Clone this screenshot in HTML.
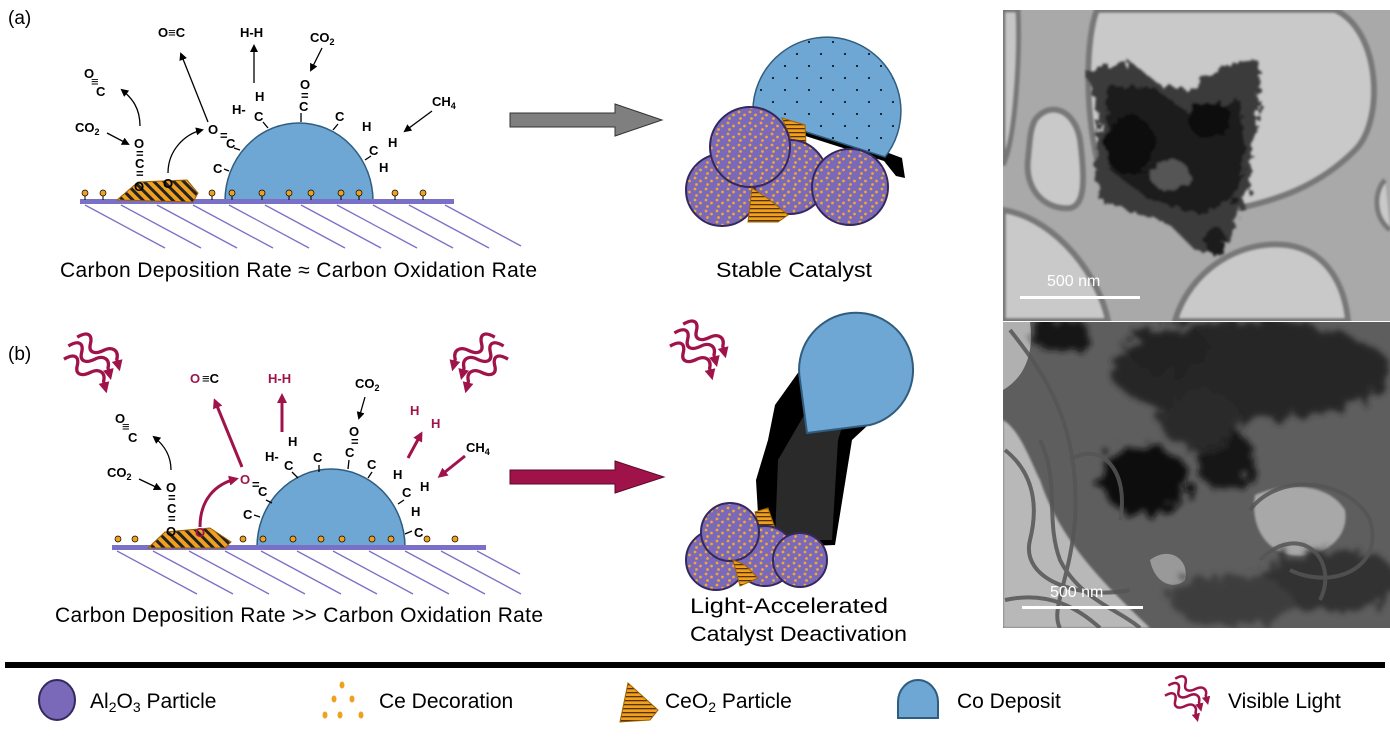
<!DOCTYPE html>
<html><head><meta charset="utf-8"><style>
html,body{margin:0;padding:0;background:#fff;}
svg{display:block;}
text{font-family:"Liberation Sans",Arial,sans-serif;}
.ch{font-weight:bold;font-size:13px;fill:#000;}
.r{fill:#a0134a;}
.cap{font-size:21px;fill:#000;}
.lg{font-size:21px;fill:#000;}
</style></head><body>
<svg width="1390" height="738" viewBox="0 0 1390 738" xmlns="http://www.w3.org/2000/svg">
<defs>
<marker id="ab" markerWidth="8" markerHeight="8" refX="6" refY="4" orient="auto" markerUnits="userSpaceOnUse"><path d="M0,0 L8,4 L0,8 z" fill="#000"/></marker>
<marker id="ar" markerWidth="10" markerHeight="10" refX="7" refY="5" orient="auto" markerUnits="userSpaceOnUse"><path d="M0,0 L10,5 L0,10 z" fill="#a0134a"/></marker>
<pattern id="hatch" width="7" height="7" patternUnits="userSpaceOnUse" patternTransform="rotate(-45)"><rect width="7" height="7" fill="#f0a020"/><rect width="3" height="7" fill="#222"/></pattern>
<pattern id="hatch2" width="4" height="4" patternUnits="userSpaceOnUse"><rect width="4" height="4" fill="#f0a020"/><rect width="4" height="1.3" fill="#553300"/></pattern>
<pattern id="dots" width="11" height="11" patternUnits="userSpaceOnUse"><rect width="11" height="11" fill="#7a68b8"/><circle cx="2" cy="2" r="1.4" fill="#f0a830"/><circle cx="7.5" cy="5" r="1.4" fill="#f0a830"/><circle cx="3.5" cy="8.5" r="1.4" fill="#f0a830"/></pattern>
<pattern id="bdots" width="24" height="24" patternUnits="userSpaceOnUse"><rect width="24" height="24" fill="#6ea6d4"/><circle cx="5" cy="6" r="1" fill="#000"/><circle cx="17" cy="18" r="1" fill="#000"/></pattern>
<g id="sq" fill="none" stroke="#a0134a" stroke-width="3">
<path d="M4,10 c10,-6 14,-2 12,6 c-2,8 4,10 12,6 c8,-4 14,0 12,8 l2,8" marker-end="url(#ar)"/>
<path d="M12,2 c10,-6 14,-2 12,6 c-2,8 4,10 12,6 c8,-4 14,0 12,8 l2,8" marker-end="url(#ar)"/>
<path d="M0,22 c10,-6 14,-2 12,6 c-2,8 4,10 12,6 c8,-4 14,0 12,8 l2,8" marker-end="url(#ar)"/>
</g>
<filter id="soft"><feGaussianBlur stdDeviation="1"/></filter>
<filter id="blob"><feTurbulence type="fractalNoise" baseFrequency="0.12" numOctaves="3"/><feDisplacementMap in="SourceGraphic" scale="14"/><feGaussianBlur stdDeviation="1.2"/></filter>
<filter id="cloud"><feTurbulence type="fractalNoise" baseFrequency="0.08" numOctaves="3"/><feDisplacementMap in="SourceGraphic" scale="30"/><feGaussianBlur stdDeviation="3"/></filter>
</defs>

<text x="8" y="24" font-size="19">(a)</text>
<text x="8" y="360" font-size="19">(b)</text>

<!-- ===== Panel a ===== -->
<g stroke="#7b70c8" stroke-width="1.3">
<line x1="85" y1="205" x2="165" y2="248"/><line x1="121" y1="205" x2="201" y2="248"/><line x1="157" y1="205" x2="237" y2="248"/><line x1="193" y1="205" x2="273" y2="248"/><line x1="229" y1="205" x2="309" y2="248"/><line x1="265" y1="205" x2="345" y2="248"/><line x1="301" y1="205" x2="381" y2="248"/><line x1="337" y1="205" x2="417" y2="248"/><line x1="373" y1="205" x2="453" y2="248"/><line x1="409" y1="205" x2="489" y2="248"/><line x1="445" y1="205" x2="521" y2="246"/>
</g>
<path d="M225,201 A74,78 0 0 1 373,201 Z" fill="#6ea6d4" stroke="#2f5d7f" stroke-width="1.5"/>
<rect x="80" y="199" width="374" height="5" fill="#7b70c8"/>
<polygon points="117,200 138,182 187,180 198,193 193,202" fill="url(#hatch)" stroke="#a06000"/>
<g fill="#f0a020" stroke="#000" stroke-width="0.7">
<circle cx="85" cy="193" r="3"/><circle cx="103" cy="193" r="3"/><circle cx="212" cy="193" r="3"/><circle cx="232" cy="193" r="3"/><circle cx="262" cy="193" r="3"/><circle cx="289" cy="193" r="3"/><circle cx="311" cy="193" r="3"/><circle cx="341" cy="193" r="3"/><circle cx="359" cy="193" r="3"/><circle cx="395" cy="193" r="3"/><circle cx="423" cy="193" r="3"/>
</g>
<g stroke="#000" stroke-width="1"><line x1="85" y1="196" x2="85" y2="200"/><line x1="103" y1="196" x2="103" y2="200"/><line x1="212" y1="196" x2="212" y2="200"/><line x1="232" y1="196" x2="232" y2="200"/><line x1="262" y1="196" x2="262" y2="200"/><line x1="289" y1="196" x2="289" y2="200"/><line x1="311" y1="196" x2="311" y2="200"/><line x1="341" y1="196" x2="341" y2="200"/><line x1="359" y1="196" x2="359" y2="200"/><line x1="395" y1="196" x2="395" y2="200"/><line x1="423" y1="196" x2="423" y2="200"/></g>
<g class="ch">
<text x="158" y="37" class="ch">O≡C</text>
<text x="240" y="37" class="ch">H-H</text>
<text x="310" y="42" class="ch">CO<tspan font-size="9" dy="3">2</tspan></text>
<text x="300" y="89" class="ch">O</text><text x="301" y="100" class="ch" font-size="9">=</text><text x="299" y="111" class="ch">C</text>
<text x="255" y="101" class="ch">H</text><text x="232" y="114" class="ch">H-</text><text x="254" y="121" class="ch">C</text>
<text x="335" y="121" class="ch">C</text>
<text x="432" y="106" class="ch">CH<tspan font-size="9" dy="3">4</tspan></text>
<text x="362" y="131" class="ch">H</text><text x="388" y="147" class="ch">H</text><text x="369" y="155" class="ch">C</text><text x="379" y="172" class="ch">H</text>
<text x="208" y="134" class="ch">O</text><text x="220" y="140" class="ch" font-size="9">=</text><text x="226" y="148" class="ch">C</text>
<text x="213" y="173" class="ch">C</text>
<text x="75" y="132" class="ch">CO<tspan font-size="9" dy="3">2</tspan></text>
<text x="134" y="148" class="ch">O</text><text x="136" y="158" class="ch" font-size="9">=</text><text x="135" y="168" class="ch">C</text><text x="136" y="178" class="ch" font-size="9">=</text><text x="134" y="191" class="ch">O</text>
<text x="163" y="188" class="ch">O</text>
<text x="84" y="78" class="ch">O</text><text x="91" y="86" class="ch" font-size="9">≡</text><text x="96" y="96" class="ch">C</text>
</g>
<g stroke="#000" stroke-width="1.3" fill="none">
<line x1="254" y1="83" x2="254" y2="46" marker-end="url(#ab)"/>
<line x1="208" y1="122" x2="181" y2="54" marker-end="url(#ab)"/>
<line x1="322" y1="48" x2="311" y2="70" marker-end="url(#ab)"/>
<line x1="432" y1="111" x2="405" y2="131" marker-end="url(#ab)"/>
<line x1="107" y1="133" x2="128" y2="144" marker-end="url(#ab)"/>
<path d="M140,126 C140,108 132,98 122,90" marker-end="url(#ab)"/>
<path d="M168,173 C168,150 185,134 202,130" marker-end="url(#ab)"/>
<line x1="263" y1="122" x2="268" y2="128"/><line x1="301" y1="113" x2="301" y2="122"/><line x1="338" y1="124" x2="333" y2="130"/><line x1="371" y1="156" x2="365" y2="160"/><line x1="234" y1="148" x2="240" y2="150"/><line x1="224" y1="169" x2="229" y2="171"/>
</g>
<text x="60" y="277" class="cap" textLength="477" lengthAdjust="spacing">Carbon Deposition Rate ≈ Carbon Oxidation Rate</text>

<!-- gray arrow -->
<polygon points="510,113 615,113 615,104 662,120 615,136 615,127 510,127" fill="#7f7f7f" stroke="#333" stroke-width="1"/>

<!-- stable catalyst -->
<path d="M748,106 L886,152 L902,158 L905,178 L896,176 L884,161 L752,119 Z" fill="#000"/>
<path d="M753,115 A74,74 0 1 1 885,157 Z" fill="url(#bdots)" stroke="#2f5d7f" stroke-width="1.5"/>
<polygon points="782,118 805,125 806,145 795,148" fill="url(#hatch2)" stroke="#a06000"/>
<circle cx="722" cy="190" r="36" fill="url(#dots)" stroke="#35285f" stroke-width="2"/>
<circle cx="790" cy="177" r="37" fill="url(#dots)" stroke="#35285f" stroke-width="2"/>
<circle cx="750" cy="147" r="40" fill="url(#dots)" stroke="#35285f" stroke-width="2"/>
<circle cx="850" cy="187" r="38" fill="url(#dots)" stroke="#35285f" stroke-width="2"/>
<polygon points="752,188 770,200 788,215 778,222 748,222" fill="url(#hatch2)" stroke="#a06000"/>
<text x="716" y="277" class="cap" textLength="156" lengthAdjust="spacingAndGlyphs">Stable Catalyst</text>

<!-- ===== Panel b ===== -->
<use href="#sq" transform="translate(64,335) scale(1.1)"/>
<use href="#sq" transform="translate(442,335) scale(1.1) scale(-1,1) translate(-60,0)"/>
<use href="#sq" transform="translate(670,322) scale(1.1)"/>
<g stroke="#7b70c8" stroke-width="1.3">
<line x1="117" y1="551" x2="197" y2="594"/><line x1="153" y1="551" x2="233" y2="594"/><line x1="189" y1="551" x2="269" y2="594"/><line x1="225" y1="551" x2="305" y2="594"/><line x1="261" y1="551" x2="341" y2="594"/><line x1="297" y1="551" x2="377" y2="594"/><line x1="333" y1="551" x2="413" y2="594"/><line x1="369" y1="551" x2="449" y2="594"/><line x1="405" y1="551" x2="485" y2="594"/><line x1="441" y1="551" x2="521" y2="594"/><line x1="477" y1="551" x2="520" y2="574"/>
</g>
<path d="M257,547 A74,78 0 0 1 405,547 Z" fill="#6ea6d4" stroke="#2f5d7f" stroke-width="1.5"/>
<rect x="112" y="545" width="374" height="5" fill="#7b70c8"/>
<polygon points="148,548 165,532 210,528 231,542 225,548" fill="url(#hatch)" stroke="#a06000"/>
<g fill="#f0a020" stroke="#000" stroke-width="0.7">
<circle cx="118" cy="539" r="3"/><circle cx="135" cy="539" r="3"/><circle cx="243" cy="539" r="3"/><circle cx="263" cy="539" r="3"/><circle cx="293" cy="539" r="3"/><circle cx="321" cy="539" r="3"/><circle cx="342" cy="539" r="3"/><circle cx="372" cy="539" r="3"/><circle cx="391" cy="539" r="3"/><circle cx="427" cy="539" r="3"/><circle cx="455" cy="539" r="3"/>
</g>
<g class="ch">
<text x="190" y="383" class="ch r">O</text><text x="202" y="383" class="ch">≡C</text>
<text x="268" y="383" class="ch r">H-H</text>
<text x="355" y="388" class="ch">CO<tspan font-size="9" dy="3">2</tspan></text>
<text x="349" y="436" class="ch">O</text><text x="351" y="446" class="ch" font-size="9">=</text><text x="345" y="457" class="ch">C</text>
<text x="288" y="446" class="ch">H</text><text x="265" y="461" class="ch">H-</text><text x="284" y="470" class="ch">C</text>
<text x="313" y="462" class="ch">C</text><text x="367" y="469" class="ch">C</text>
<text x="410" y="415" class="ch r">H</text><text x="431" y="428" class="ch r">H</text>
<text x="466" y="452" class="ch">CH<tspan font-size="9" dy="3">4</tspan></text>
<text x="393" y="479" class="ch">H</text><text x="420" y="491" class="ch">H</text><text x="402" y="497" class="ch">C</text><text x="411" y="516" class="ch">H</text>
<text x="414" y="537" class="ch">C</text>
<text x="240" y="484" class="ch r">O</text><text x="252" y="489" class="ch" font-size="9">=</text><text x="258" y="496" class="ch">C</text>
<text x="243" y="519" class="ch">C</text>
<text x="107" y="477" class="ch">CO<tspan font-size="9" dy="3">2</tspan></text>
<text x="166" y="492" class="ch">O</text><text x="168" y="502" class="ch" font-size="9">=</text><text x="167" y="513" class="ch">C</text><text x="168" y="523" class="ch" font-size="9">=</text><text x="166" y="536" class="ch">O</text>
<text x="195" y="537" class="ch r">O</text>
<text x="115" y="423" class="ch">O</text><text x="122" y="431" class="ch" font-size="9">≡</text><text x="128" y="442" class="ch">C</text>
</g>
<g stroke="#000" stroke-width="1.3" fill="none">
<line x1="365" y1="397" x2="359" y2="418" marker-end="url(#ab)"/>
<line x1="139" y1="479" x2="160" y2="489" marker-end="url(#ab)"/>
<path d="M171,470 C171,455 164,445 154,437" marker-end="url(#ab)"/>
<line x1="292" y1="472" x2="298" y2="478"/><line x1="349" y1="460" x2="348" y2="469"/><line x1="319" y1="465" x2="319" y2="472"/><line x1="372" y1="472" x2="368" y2="478"/><line x1="404" y1="500" x2="398" y2="504"/><line x1="266" y1="500" x2="272" y2="503"/><line x1="254" y1="515" x2="260" y2="517"/><line x1="412" y1="531" x2="405" y2="534"/>
</g>
<g stroke="#a0134a" stroke-width="3" fill="none">
<line x1="242" y1="467" x2="215" y2="401" marker-end="url(#ar)"/>
<line x1="282" y1="432" x2="282" y2="396" marker-end="url(#ar)"/>
<line x1="408" y1="458" x2="421" y2="434" marker-end="url(#ar)"/>
<line x1="465" y1="456" x2="440" y2="476" marker-end="url(#ar)"/>
<path d="M200,527 C200,500 215,484 236,479" marker-end="url(#ar)"/>
</g>
<text x="55" y="622" class="cap" textLength="488" lengthAdjust="spacing">Carbon Deposition Rate &gt;&gt; Carbon Oxidation Rate</text>

<!-- red arrow -->
<polygon points="510,470 615,470 615,461 664,477 615,493 615,484 510,484" fill="#a0134a" stroke="#5a0a2a" stroke-width="1"/>

<!-- deactivated catalyst -->
<path d="M800,370 L905,355 L895,400 L852,440 L835,545 L760,548 L756,480 L768,440 L775,405 Z" fill="#000"/>
<path d="M810,405 L852,395 L838,440 L832,540 L775,540 L778,460 Z" fill="#2a2a2a"/>
<path d="M807,433 L800,380 A57,57 0 1 1 870,425 Z" fill="#6ea6d4" stroke="#2f5d7f" stroke-width="2"/>
<polygon points="755,512 768,508 775,528 760,530" fill="url(#hatch2)" stroke="#a06000"/>
<circle cx="716" cy="560" r="30" fill="url(#dots)" stroke="#35285f" stroke-width="2"/>
<circle cx="765" cy="556" r="30" fill="url(#dots)" stroke="#35285f" stroke-width="2"/>
<circle cx="730" cy="532" r="29" fill="url(#dots)" stroke="#35285f" stroke-width="2"/>
<circle cx="800" cy="560" r="27" fill="url(#dots)" stroke="#35285f" stroke-width="2"/>
<polygon points="733,560 745,565 758,578 740,586" fill="url(#hatch2)" stroke="#a06000"/>
<text x="690" y="613" class="cap" textLength="198" lengthAdjust="spacingAndGlyphs">Light-Accelerated</text>
<text x="690" y="641" class="cap" textLength="217" lengthAdjust="spacingAndGlyphs">Catalyst Deactivation</text>

<!-- TEM top -->
<g>
<clipPath id="c1"><rect x="1003" y="10" width="387" height="311"/></clipPath>
<g clip-path="url(#c1)">
<rect x="1003" y="10" width="387" height="311" fill="#a9a9a9"/>
<g filter="url(#soft)">
<path d="M1003,10 L1018,10 C1020,60 1015,140 1003,165 Z" fill="#c6c6c6" stroke="#777" stroke-width="5"/>
<path d="M1097,10 L1335,10 C1380,30 1385,120 1355,150 C1320,185 1280,200 1230,210 C1180,220 1120,210 1100,170 C1085,120 1085,40 1097,10 Z" fill="#c9c9c9" stroke="#787878" stroke-width="6"/>
<path d="M1035,120 C1050,100 1075,110 1080,140 C1085,180 1085,205 1070,208 C1045,210 1025,190 1028,160 C1030,140 1030,130 1035,120 Z" fill="#c9c9c9" stroke="#787878" stroke-width="6"/>
<path d="M1003,210 C1060,220 1100,280 1108,321 L1003,321 Z" fill="#c9c9c9" stroke="#787878" stroke-width="6"/>
<path d="M1175,321 C1190,270 1240,240 1285,245 C1330,250 1345,290 1348,321 Z" fill="#c9c9c9" stroke="#787878" stroke-width="6"/>
<path d="M1385,180 C1375,190 1372,215 1390,230" fill="#c9c9c9" stroke="#787878" stroke-width="5"/>
</g>
<g filter="url(#blob)">
<path d="M1085,70 L1130,62 L1160,85 L1190,90 L1225,65 L1258,60 L1260,100 L1252,150 L1250,190 L1240,215 L1218,255 L1195,250 L1170,225 L1130,210 L1100,200 L1095,160 L1100,120 Z" fill="#3a3a3a"/>
<path d="M1105,90 L1150,85 L1185,110 L1240,100 L1245,150 L1235,200 L1200,215 L1150,200 L1110,170 Z" fill="#1c1c1c"/>
<ellipse cx="1130" cy="145" rx="25" ry="30" fill="#0c0c0c"/>
<ellipse cx="1210" cy="120" rx="22" ry="18" fill="#0c0c0c"/>
<ellipse cx="1170" cy="175" rx="20" ry="15" fill="#555"/>
<ellipse cx="1215" cy="240" rx="10" ry="14" fill="#1a1a1a"/>
</g>
</g>
<rect x="1020" y="296" width="120" height="3" fill="#fff"/>
<text x="1047" y="286" font-size="16" fill="#fff">500 nm</text>
</g>

<!-- TEM bottom -->
<g>
<clipPath id="c2"><rect x="1003" y="322" width="387" height="306"/></clipPath>
<g clip-path="url(#c2)">
<rect x="1003" y="322" width="387" height="306" fill="#5e5e5e"/>
<path d="M1003,420 C1020,430 1030,460 1040,480 C1060,540 1100,580 1150,628 L1003,628 Z" fill="#b8b8b8" filter="url(#soft)"/>
<path d="M1003,322 L1030,322 C1035,360 1020,380 1003,390 Z" fill="#b0b0b0"/>
<path d="M1255,495 C1290,480 1330,485 1345,510 C1350,540 1320,560 1290,555 C1265,550 1250,525 1255,495 Z" fill="#a8a8a8" filter="url(#soft)"/>
<path d="M1150,560 C1170,545 1190,560 1185,580 C1175,590 1155,585 1150,560 Z" fill="#999"/>
<g filter="url(#cloud)">
<ellipse cx="1250" cy="370" rx="140" ry="50" fill="#262626"/>
<ellipse cx="1145" cy="480" rx="45" ry="35" fill="#111"/>
<ellipse cx="1225" cy="460" rx="30" ry="30" fill="#161616"/>
<ellipse cx="1200" cy="420" rx="40" ry="30" fill="#2a2a2a"/>
<ellipse cx="1060" cy="335" rx="30" ry="18" fill="#141414"/>
<ellipse cx="1170" cy="350" rx="40" ry="25" fill="#222"/>
<ellipse cx="1330" cy="580" rx="70" ry="30" fill="#333"/>
<ellipse cx="1230" cy="600" rx="60" ry="25" fill="#3e3e3e"/>
</g>
<g fill="none" stroke="#555" stroke-width="4" opacity="0.85">
<path d="M1010,330 C1050,380 1080,430 1075,520 C1070,580 1050,610 1060,628"/>
<path d="M1005,450 C1030,470 1040,500 1030,540 C1020,580 1080,600 1130,590"/>
<path d="M1040,440 C1060,480 1045,520 1060,560 C1080,600 1120,610 1140,628"/>
<path d="M1250,510 C1280,470 1350,480 1370,520 C1385,570 1330,590 1290,570"/>
<path d="M1260,560 C1300,520 1340,560 1320,600"/>
<path d="M1005,600 C1050,590 1080,610 1100,628"/>
<path d="M1070,460 C1100,440 1130,470 1120,520"/>
</g>
</g>
<rect x="1022" y="606" width="121" height="3" fill="#fff"/>
<text x="1050" y="597" font-size="16" fill="#fff">500 nm</text>
</g>

<!-- legend -->
<rect x="5" y="662" width="1380" height="6" fill="#000"/>
<ellipse cx="57" cy="700" rx="18" ry="20" fill="#7a68b8" stroke="#35285f" stroke-width="2"/>
<text x="90" y="708" class="lg">Al<tspan font-size="14" dy="4">2</tspan><tspan dy="-4">O</tspan><tspan font-size="14" dy="4">3</tspan><tspan dy="-4"> Particle</tspan></text>
<g fill="#f0a020"><ellipse cx="342" cy="685" rx="2.5" ry="3.5"/><ellipse cx="334" cy="699" rx="2.5" ry="3.5"/><ellipse cx="352" cy="699" rx="2.5" ry="3.5"/><ellipse cx="325" cy="715" rx="2.5" ry="3.5"/><ellipse cx="340" cy="715" rx="2.5" ry="3.5"/><ellipse cx="361" cy="715" rx="2.5" ry="3.5"/></g>
<text x="379" y="708" class="lg">Ce Decoration</text>
<polygon points="628,683 658,710 650,720 620,722" fill="url(#hatch2)" stroke="#a06000"/>
<text x="665" y="708" class="lg">CeO<tspan font-size="14" dy="4">2</tspan><tspan dy="-4"> Particle</tspan></text>
<path d="M898,718 L898,702 A20,22 0 0 1 938,702 L938,718 Z" fill="#6ea6d4" stroke="#2f5d7f" stroke-width="2"/>
<text x="957" y="708" class="lg">Co Deposit</text>
<use href="#sq" transform="translate(1165,677) scale(0.85)"/>
<text x="1228" y="708" class="lg">Visible Light</text>
</svg>
</body></html>
